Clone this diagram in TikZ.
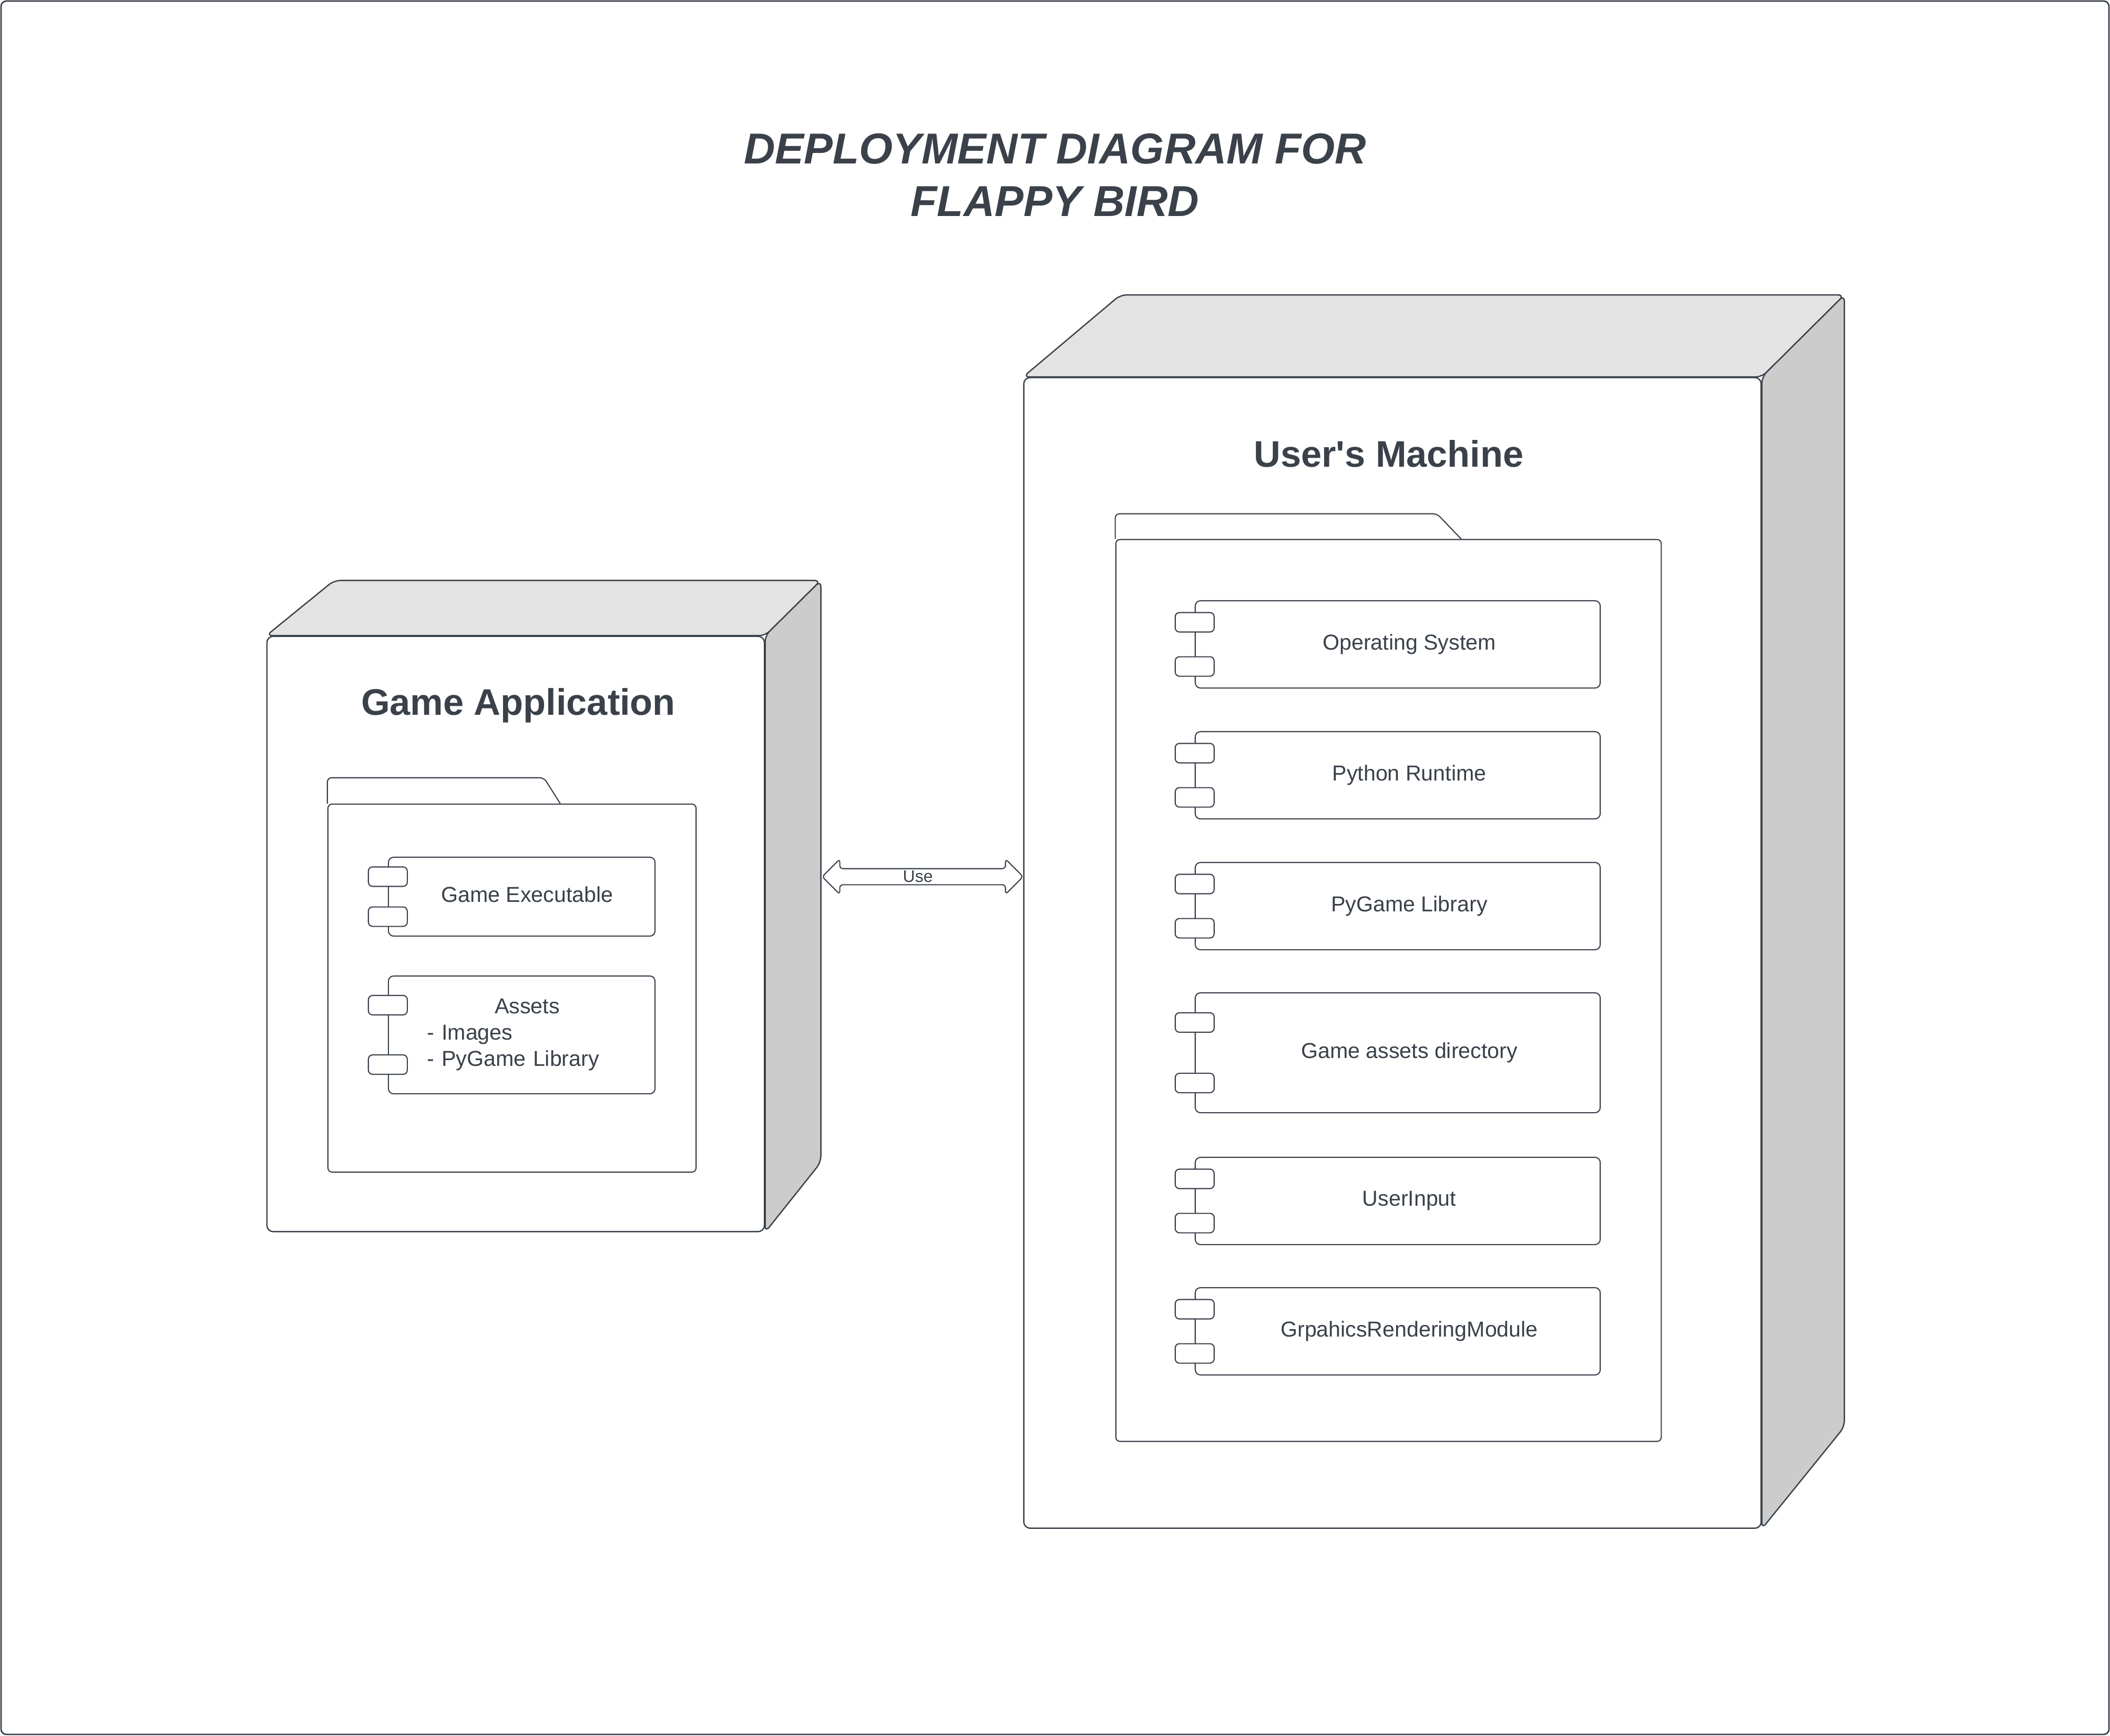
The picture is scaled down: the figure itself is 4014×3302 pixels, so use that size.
\documentclass[tikz,border=0pt]{standalone}
\usepackage{fontspec}
\setmainfont{Liberation Sans}
\usetikzlibrary{calc,shapes.arrows}

\definecolor{ink}{HTML}{3A414A}
\definecolor{topgrey}{HTML}{E3E3E3}
\definecolor{sidegrey}{HTML}{CCCCCC}

\tikzset{
	frame/.style={draw=ink, line width=0.8pt, rounded corners=1mm},
	front/.style={draw=ink, fill=white, line width=0.7pt, rounded corners=1.2mm, inner sep=0pt},
	topface/.style={draw=ink, fill=topgrey, line width=0.7pt, rounded corners=1.2mm},
	sideface/.style={draw=ink, fill=sidegrey, line width=0.7pt, rounded corners=1.2mm},
	pkg/.style={draw=ink, fill=white, line width=0.6pt, rounded corners=0.8mm, inner sep=0pt},
	pkgtab/.style={draw=ink, line width=0.6pt, rounded corners=0.8mm},
	comp/.style={draw=ink, fill=white, line width=0.6pt, rounded corners=1mm, inner sep=0pt},
	port/.style={draw=ink, fill=white, line width=0.6pt, rounded corners=0.8mm, inner sep=0pt, minimum width=0.74cm, minimum height=0.37cm},
	ctext/.style={text=ink, inner sep=0pt, font=\fontsize{11.7}{14.2}\selectfont},
	ntitle/.style={text=ink, inner sep=0pt, font=\fontsize{20}{24}\selectfont\bfseries},
	title/.style={text=ink, inner sep=0pt, align=center, font=\fontsize{23.4}{28.5}\selectfont\bfseries\itshape},
	usearrow/.style={shape=double arrow, draw=ink, fill=white, line width=0.6pt, rounded corners=0.6mm, inner sep=0pt, double arrow head extend=0.145cm, double arrow tip angle=90, minimum width=0.67cm, minimum height=3.82cm, text=ink, font=\fontsize{9.1}{11}\selectfont}
}

\begin{document}
\begin{tikzpicture}[x=0.01cm, y=-0.01cm]
	\useasboundingbox (0,0) rectangle (4014,3302);
	\draw[frame] (2,2) rectangle (4012,3300);

	%––––– title –––––
	\node[title] (ttl) at (2007,333) {DEPLOYMENT DIAGRAM FOR\\FLAPPY BIRD};

	%––––– game application –––––
	\node[front, minimum width=9.46cm, minimum height=11.32cm] (ga) at (981,1777) {};
	\draw[topface] (ga.north west) -- ++(129,-105) -- ($(ga.north east)+(106,-105)$) -- (ga.north east) -- cycle;
	\draw[sideface] (ga.north east) -- ++(106,-105) -- ($(ga.south east)+(106,-133)$) -- (ga.south east) -- cycle;
	\node[ntitle, anchor=base] (gatitle) at (986,1360) {Game Application};

	\node[pkg, minimum width=7cm, minimum height=7cm] (gapkg) at (974,1880) {};
	\draw[pkgtab] (gapkg.north west) -- ++(0,-49) -- ++(412,0) -- ++(31,49);

	\node[comp, minimum width=5.07cm, minimum height=1.5cm,
		label={[ctext, xshift=1.05mm, yshift=0.4mm]center:Game Executable}] (gexe) at (992.5,1706) {};
	\node[port] (gexe-p1) at ($(gexe.north west)!0.25!(gexe.south west)$) {};
	\node[port] (gexe-p2) at ($(gexe.north west)!0.75!(gexe.south west)$) {};

	\node[comp, minimum width=5.07cm, minimum height=2.24cm,
		label={[ctext, xshift=1.05mm, text width=3.8cm, align=left]center:{\centering Assets\endgraf}- Images\\- PyGame Library}] (assets) at (992.5,1969) {};
	\node[port] (assets-p1) at ($(assets.north west)!0.25!(assets.south west)$) {};
	\node[port] (assets-p2) at ($(assets.north west)!0.75!(assets.south west)$) {};

	%––––– user's machine –––––
	\node[front, minimum width=14.02cm, minimum height=21.88cm] (um) at (2649,1813) {};
	\draw[topface] (um.north west) -- ++(185,-156) -- ($(um.north east)+(157,-156)$) -- (um.north east) -- cycle;
	\draw[sideface] (um.north east) -- ++(157,-156) -- ($(um.south east)+(157,-194)$) -- (um.south east) -- cycle;
	\node[ntitle, anchor=base] (umtitle) at (2642,888) {User\textquotesingle s Machine};

	\node[pkg, minimum width=10.37cm, minimum height=17.15cm] (umpkg) at (2641.5,1884.5) {};
	\draw[pkgtab] (umpkg.north west) -- ++(0,-48) -- ++(612,0) -- ++(46,48);

	\node[comp, minimum width=7.7cm, minimum height=1.66cm,
		label={[ctext, xshift=2.2mm]center:Operating System}] (os) at (2659,1226) {};
	\node[port] (os-p1) at ($(os.north west)!0.25!(os.south west)$) {};
	\node[port] (os-p2) at ($(os.north west)!0.75!(os.south west)$) {};

	\node[comp, minimum width=7.7cm, minimum height=1.66cm,
		label={[ctext, xshift=2.2mm]center:Python Runtime}] (pyrt) at (2659,1475) {};
	\node[port] (pyrt-p1) at ($(pyrt.north west)!0.25!(pyrt.south west)$) {};
	\node[port] (pyrt-p2) at ($(pyrt.north west)!0.75!(pyrt.south west)$) {};

	\node[comp, minimum width=7.7cm, minimum height=1.66cm,
		label={[ctext, xshift=2.2mm]center:PyGame Library}] (pglib) at (2659,1724) {};
	\node[port] (pglib-p1) at ($(pglib.north west)!0.25!(pglib.south west)$) {};
	\node[port] (pglib-p2) at ($(pglib.north west)!0.75!(pglib.south west)$) {};

	\node[comp, minimum width=7.7cm, minimum height=2.28cm,
		label={[ctext, xshift=2.2mm]center:Game assets directory}] (gadir) at (2659,2003) {};
	\node[port] (gadir-p1) at ($(gadir.north west)!0.25!(gadir.south west)$) {};
	\node[port] (gadir-p2) at ($(gadir.north west)!0.75!(gadir.south west)$) {};

	\node[comp, minimum width=7.7cm, minimum height=1.66cm,
		label={[ctext, xshift=2.2mm]center:UserInput}] (uinput) at (2659,2285) {};
	\node[port] (uinput-p1) at ($(uinput.north west)!0.25!(uinput.south west)$) {};
	\node[port] (uinput-p2) at ($(uinput.north west)!0.75!(uinput.south west)$) {};

	\node[comp, minimum width=7.7cm, minimum height=1.66cm,
		label={[ctext, xshift=2.2mm]center:GrpahicsRenderingModule}] (grm) at (2659,2533) {};
	\node[port] (grm-p1) at ($(grm.north west)!0.25!(grm.south west)$) {};
	\node[port] (grm-p2) at ($(grm.north west)!0.75!(grm.south west)$) {};

	%––––– use –––––
	\coordinate (usel) at (1564,1668);
	\coordinate (user) at (um.west |- usel);
	\node[usearrow] (use) at ($(usel)!0.5!(user)$) {Use\hspace*{0.18cm}};
\end{tikzpicture}
\end{document}
